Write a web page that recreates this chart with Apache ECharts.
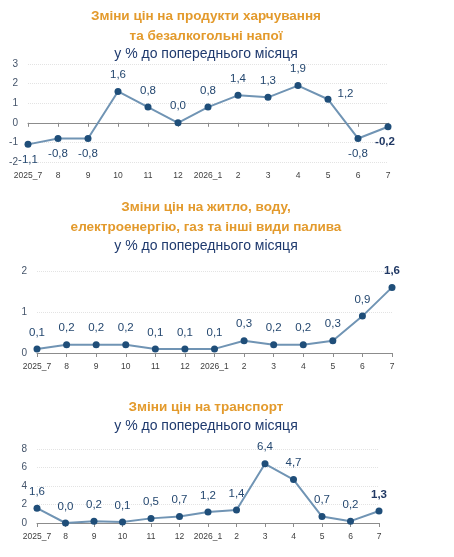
<!DOCTYPE html>
<html>
<head>
<meta charset="utf-8">
<script src="https://cdn.jsdelivr.net/npm/echarts@6/dist/echarts.min.js"></script>
<style>
  html, body { margin: 0; padding: 0; background: #fff; }
  #main { width: 454px; height: 557px; }
</style>
</head>
<body>
<div id="main"></div>
<script>
var months = ['2025_7', '8', '9', '10', '11', '12', '2026_1', '2', '3', '4', '5', '6', '7'];
var food = [-1.1, -0.8, -0.8, 1.6, 0.8, 0.0, 0.8, 1.4, 1.3, 1.9, 1.2, -0.8, -0.2];
var housing = [0.1, 0.2, 0.2, 0.2, 0.1, 0.1, 0.1, 0.3, 0.2, 0.2, 0.3, 0.9, 1.6];
var transport = [1.6, 0.0, 0.2, 0.1, 0.5, 0.7, 1.2, 1.4, 6.4, 4.7, 0.7, 0.2, 1.3];

var orange = '#E39A2C', navy = '#1F3A6E';
var lineColor = '#7094B4', dotColor = '#1F4E79', labelColor = '#24476F';
var font = 'Arial, "Liberation Sans", sans-serif';

var myChart = echarts.init(document.getElementById('main'));

function fmt(v) { return v.toFixed(1).replace('.', ','); }

// label placement per point: index -> position
function points(values, below, right) {
    var out = [];
    for (var i = 0; i < values.length; i++) {
        var item = { value: values[i] };
        var last = i === values.length - 1;
        var lbl = {};
        if (below.indexOf(i) >= 0) { lbl.position = 'bottom'; lbl.distance = 6; }
        if (right.indexOf(i) >= 0) { lbl.position = 'right'; lbl.distance = 6; lbl.offset = [0, -5]; }
        if (last) { lbl.fontWeight = 'bold'; lbl.color = '#203864'; }
        if (last && below.indexOf(i) >= 0) { lbl.offset = [-3, 0]; }
        item.label = lbl;
        out.push(item);
    }
    return out;
}

function titleLine(text, top, color, size, bold) {
    return {
        text: text, left: 201, top: top, textAlign: 'center',
        textStyle: { color: color, fontSize: size, fontWeight: bold ? 'bold' : 'normal', fontFamily: font }
    };
}

function labelAxis(grid) {
    return {
        type: 'category', gridIndex: grid, data: months, boundaryGap: false, position: 'bottom',
        axisLine: { show: false, onZero: false }, axisTick: { show: false },
        axisLabel: { color: '#404040', fontSize: 8.5, fontFamily: font, margin: 9, interval: 0 }
    };
}
function lineAxis(grid) {
    return {
        type: 'category', gridIndex: grid, data: months, boundaryGap: false, position: 'bottom',
        axisLine: { show: true, onZero: true, lineStyle: { color: '#8c8c8c', width: 1 } },
        axisTick: { show: true, inside: false, length: 4, interval: 0, lineStyle: { color: '#8c8c8c' } },
        axisLabel: { show: false }
    };
}
function valueAxis(grid, min, max, step) {
    return {
        type: 'value', gridIndex: grid, min: min, max: max, interval: step,
        axisLine: { show: false }, axisTick: { show: false },
        axisLabel: { color: '#44546A', fontSize: 10, fontFamily: font, margin: 10 },
        splitLine: { show: true, lineStyle: { color: '#e3e3e3', type: 'dotted', width: 1 } }
    };
}
function lineSeries(idx, values, below, right) {
    return {
        type: 'line', xAxisIndex: idx * 2, yAxisIndex: idx, data: points(values, below, right),
        symbol: 'circle', symbolSize: 7, z: 3,
        lineStyle: { color: lineColor, width: 2 },
        itemStyle: { color: dotColor },
        label: {
            show: true, position: 'top', distance: 7, color: labelColor, fontSize: 11.5, fontFamily: font,
            formatter: function (p) { return fmt(p.value); }
        }
    };
}

option = {
    animation: false,
    title: [
        titleLine('Зміни цін на продукти харчування', 4, orange, 13.5, true),
        titleLine('та безалкогольні напої', 24, orange, 13.5, true),
        titleLine('у % до попереднього місяця', 42, navy, 14, false),
        titleLine('Зміни цін на житло, воду,', 195, orange, 13.5, true),
        titleLine('електроенергію, газ та інші види палива', 215, orange, 13.5, true),
        titleLine('у % до попереднього місяця', 234, navy, 14, false),
        titleLine('Зміни цін на транспорт', 395, orange, 13.5, true),
        titleLine('у % до попереднього місяця', 414, navy, 14, false)
    ],
    grid: [
        { left: 28, right: 66, top: 64, bottom: 395 },
        { left: 37, right: 62, top: 271, bottom: 204 },
        { left: 37, right: 75, top: 449, bottom: 34 }
    ],
    xAxis: [labelAxis(0), lineAxis(0), labelAxis(1), lineAxis(1), labelAxis(2), lineAxis(2)],
    yAxis: [valueAxis(0, -2, 3, 1), valueAxis(1, 0, 2, 1), valueAxis(2, 0, 8, 2)],
    series: [
        lineSeries(0, food, [0, 1, 2, 11, 12], [10]),
        lineSeries(1, housing, [], []),
        lineSeries(2, transport, [], [])
    ]
};

myChart.setOption(option);
</script>
</body>
</html>
